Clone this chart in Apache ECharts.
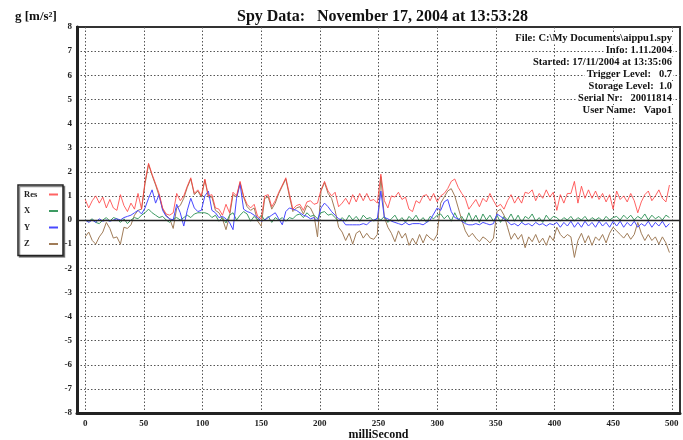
<!DOCTYPE html>
<html><head><meta charset="utf-8">
<script src="https://cdn.jsdelivr.net/npm/echarts@6/dist/echarts.min.js"></script>
<style>html,body{margin:0;padding:0;background:#fff}#c{width:683px;height:440px}</style>
</head><body><div id="c"></div>
<script>
const ms = [0,3,6,9,12,15,18,21,24,27,30,33,36,39,42,45,48,
51,54,57,60,63,66,69,72,75,78,81,84,87,90,93,96,99,
102,105,108,111,114,117,120,123,126,129,132,135,138,141,144,147,150,
153,156,159,162,165,168,171,174,177,180,183,186,189,192,195,198,
201,204,207,210,213,216,219,222,225,228,231,234,237,240,243,246,249,
252,255,258,261,264,267,270,273,276,279,282,285,288,291,294,297,300,
303,306,309,312,315,318,321,324,327,330,333,336,339,342,345,348,
351,354,357,360,363,366,369,372,375,378,381,384,387,390,393,396,399,
402,405,408,411,414,417,420,423,426,429,432,435,438,441,444,447,450,
453,456,459,462,465,468,471,474,477,480,483,486,489,492,495,498];

const resVals = [0.85,0.5,0.8,1.0,0.7,0.95,0.5,0.85,0.5,0.4,1.05,0.6,0.35,0.7,0.45,1.1,0.45,
1.6,2.35,1.9,1.5,1.1,0.5,0.25,0.2,0.3,1.1,0.8,1.0,1.4,1.75,1.1,1.25,1.0,
1.7,1.0,1.05,0.5,0.45,0.2,0.65,0.3,1.15,1.0,1.6,1.0,0.65,0.5,0.65,0.15,0.05,
1.0,1.05,0.55,0.8,1.15,1.45,1.75,1.1,0.45,0.6,0.65,0.4,0.75,0.8,0.65,0.7,
1.25,1.6,1.2,1.0,1.15,0.55,0.7,0.9,0.65,1.05,0.75,1.1,0.8,1.1,0.8,0.85,0.7,
1.9,0.8,0.5,1.0,0.95,1.15,0.85,0.95,0.45,0.35,0.8,0.7,1.0,1.05,0.8,1.1,0.75,
1.0,1.1,1.3,1.6,1.7,1.35,1.1,0.9,0.45,0.65,0.85,0.55,0.9,0.75,1.1,0.8,
0.55,0.65,0.45,0.8,1.05,0.7,0.95,0.7,1.15,1.1,1.25,0.8,1.1,0.9,1.25,0.95,1.15,
0.4,1.05,0.7,1.1,1.1,1.6,0.7,1.4,0.9,1.25,0.9,1.2,0.85,1.1,0.75,1.05,0.45,
1.2,0.85,1.0,0.75,1.1,0.8,0.3,0.75,1.05,1.2,0.8,1.0,1.25,0.9,0.75,1.45];

const xVals = [0.0,-0.05,0.05,-0.1,-0.15,0.0,0.1,-0.05,0.1,0.05,-0.1,0.05,-0.15,0.0,0.1,0.05,0.2,
0.3,0.45,0.3,0.2,0.1,0.15,0.0,-0.1,0.05,0.1,0.0,0.1,0.2,0.1,0.25,0.3,0.3,
0.3,0.25,0.1,0.2,-0.05,0.1,-0.12,0.2,0.3,0.0,0.2,0.35,0.25,-0.05,0.15,0.0,0.2,
0.0,0.15,-0.1,0.1,0.0,0.1,-0.05,0.1,0.05,0.2,0.25,0.1,0.3,0.15,0.2,0.05,
0.3,0.35,0.2,0.25,0.1,-0.05,0.1,-0.05,0.2,0.0,0.15,-0.05,0.2,0.05,0.1,-0.05,0.1,
0.0,0.15,-0.1,0.05,0.2,-0.05,0.1,-0.1,0.15,0.0,0.2,-0.05,0.1,-0.1,0.15,0.05,0.2,
0.25,0.05,0.2,-0.05,0.3,0.0,0.15,-0.1,0.3,-0.05,0.2,-0.1,0.25,0.0,0.2,-0.05,
0.2,-0.1,0.15,0.0,0.25,-0.05,0.2,-0.1,0.15,0.05,0.25,-0.05,0.1,-0.1,0.2,0.0,0.15,
0.1,-0.05,0.1,0.0,0.15,-0.05,0.1,0.0,0.15,-0.05,0.1,0.0,0.1,-0.05,0.15,0.0,0.1,
0.15,0.0,0.2,0.05,0.2,0.0,0.15,0.05,0.25,0.0,0.2,0.05,0.15,0.0,0.2,0.1];

const yVals = [0.0,-0.1,0.0,-0.1,0.05,-0.05,0.0,-0.05,0.0,0.05,0.0,0.1,0.15,0.2,0.3,0.4,0.25,
0.5,0.9,1.25,0.7,1.05,0.4,0.15,0.05,0.0,0.65,0.3,-0.25,0.4,0.9,0.5,0.35,0.4,
1.0,1.2,0.4,0.3,0.1,0.15,0.05,-0.1,-0.4,0.9,1.5,0.45,0.35,0.3,0.2,0.1,-0.05,
0.0,0.1,0.2,0.3,0.05,-0.2,0.35,0.5,0.45,0.4,0.3,0.2,0.15,0.05,0.1,-0.05,
0.5,0.7,0.55,0.35,0.2,0.05,0.0,-0.2,-0.2,-0.2,-0.2,-0.2,-0.15,-0.2,-0.05,0.0,0.05,
1.2,0.1,0.05,-0.05,-0.1,-0.15,-0.2,-0.1,-0.2,-0.15,-0.15,-0.15,-0.2,-0.1,0.0,0.25,0.5,
0.4,0.75,0.85,0.35,0.1,0.05,-0.05,-0.15,-0.2,-0.2,-0.15,-0.2,-0.1,-0.15,-0.2,-0.15,
0.25,0.15,0.05,-0.05,-0.2,-0.15,-0.25,-0.1,-0.2,-0.15,-0.25,-0.1,-0.2,-0.15,-0.25,-0.15,-0.2,
-0.1,-0.3,-0.1,-0.25,-0.05,-0.3,-0.1,-0.3,-0.05,-0.25,-0.1,-0.3,-0.05,-0.25,-0.1,-0.3,-0.05,
-0.25,-0.05,-0.3,-0.1,-0.25,-0.05,-0.3,-0.15,-0.25,-0.05,-0.3,-0.1,-0.25,-0.05,-0.3,-0.15];

const zVals = [-0.7,-0.5,-0.85,-1.0,-0.7,-0.5,-0.1,-0.35,-0.75,-0.7,-1.0,-0.3,-0.35,-0.2,0.2,0.4,0.45,
1.5,2.3,1.85,1.45,1.0,0.45,0.2,0.05,-0.35,0.5,0.6,0.9,1.35,1.7,1.05,1.2,0.95,
1.65,0.95,0.95,0.4,0.3,0.05,-0.4,0.15,1.05,0.95,1.55,0.95,0.55,0.4,0.5,-0.05,-0.25,
0.9,0.95,0.45,0.7,1.1,1.4,1.7,1.0,0.35,0.5,0.55,0.25,0.6,0.5,0.2,-0.7,
1.2,1.55,1.1,0.9,0.4,-0.3,-0.5,-0.85,-0.55,-1.0,-0.55,-0.45,-0.75,-0.55,-0.75,-0.8,-0.6,
1.8,0.1,-0.3,-0.55,-0.9,-0.45,-0.75,-0.55,-1.05,-0.75,-1.0,-0.6,-0.95,-0.6,-0.75,-0.85,-0.6,
0.7,0.95,1.2,1.3,1.0,0.5,0.0,-0.45,-0.7,-0.55,-0.75,-0.9,-0.7,-0.8,-0.95,-0.75,
0.35,0.45,0.2,-0.3,-0.8,-0.55,-0.8,-0.6,-1.15,-0.7,-0.9,-0.6,-0.95,-0.75,-1.05,-0.65,-0.85,
-0.3,-0.6,-0.75,-0.6,-0.7,-1.55,-0.85,-0.55,-0.95,-0.65,-1.05,-0.7,-0.85,-0.6,-0.95,-0.55,-0.3,
-0.45,-0.6,-0.75,-0.55,-0.8,-0.6,-0.1,-0.55,-0.85,-0.6,-0.85,-0.7,-1.0,-0.7,-0.95,-1.35];

const seriesNames = ['Res','X','Y','Z'];
const infoLines = ['File: C:\\My Documents\\aippu1.spy','Info: 1.11.2004','Started: 17/11/2004 at 13:35:06',
  'Trigger Level:   0.7','Storage Level:  1.0','Serial Nr:   20011814','User Name:   Vapo1'];
const titleText = 'Spy Data:   November 17, 2004 at 13:53:28';
const yUnit = 'g [m/s\u00B2]';
const xName = 'milliSecond';

const SERIF = '"Liberation Serif","DejaVu Serif","Times New Roman",serif';
const pair = v => ms.map((t,i)=>[t, v[i]]);

const chart = echarts.init(document.getElementById('c'), null, {renderer:'canvas'});
const lineS = (name, vals, color, z) => ({
  name, type:'line', data: pair(vals), showSymbol:false, symbol:'none', z,
  lineStyle:{color, width:1}, itemStyle:{color}, animation:false
});
const sZ = lineS('Z', zVals, '#a07c58', 2);
const sX = lineS('X', xVals, '#3d9a62', 3);
const sY = lineS('Y', yVals, '#4848ff', 4);
const sR = lineS('Res', resVals, 'rgba(255,60,60,0.8)', 5);
sZ.markLine = {silent:true, symbol:'none', label:{show:false}, animation:false,
  lineStyle:{color:'#222', width:1.3, type:'solid'}, data:[{yAxis:0}]};

const infoGraphics = infoLines.map((t, i) => ({
  type:'text', right:10, top:33 + i*12, z:100,
  style:{text:t, fill:'#111', font:'bold 10.5px ' + SERIF, backgroundColor:'#fff', padding:[0,1,0,2]}
}));

chart.setOption({
  backgroundColor:'#fff',
  animation:false,
  title:[
    {text:titleText, left:232, top:4, textStyle:{fontFamily:SERIF, fontSize:16, fontWeight:'bold', color:'#111'}},
    {text:yUnit, left:10, top:5, textStyle:{fontFamily:SERIF, fontSize:13, fontWeight:'bold', color:'#111'}}
  ],
  grid:{left:77, right:3, top:27, bottom:27, show:true, borderColor:'#333', borderWidth:2,
    backgroundColor:'#fff', containLabel:false, outerBoundsMode:'none'},
  legend:{
    data:seriesNames, orient:'vertical', left:18, top:185, align:'right',
    icon:'rect', itemWidth:9, itemHeight:2, itemGap:7.5,
    padding:[5,5,7,6], borderColor:'#222', borderWidth:1.5,
    shadowColor:'rgba(0,0,0,0.45)', shadowOffsetX:1.5, shadowOffsetY:1.5, shadowBlur:0,
    backgroundColor:'#fff',
    formatter: name => '{a|' + name + '}',
    textStyle:{fontFamily:SERIF, fontSize:8.5, fontWeight:'bold', color:'#222',
      rich:{a:{width:20, align:'left', fontFamily:SERIF, fontSize:8.5, fontWeight:'bold', color:'#222'}}},
    selectedMode:false
  },
  xAxis:{
    type:'value', min:-7, max:507, splitNumber:10,
    name:xName, nameLocation:'middle', nameGap:16, nameMoveOverlap:false,
    nameTextStyle:{fontFamily:SERIF, fontSize:12, fontWeight:'bold', color:'#111'},
    axisLine:{show:true, onZero:false, lineStyle:{color:'#222', width:3}},
    axisTick:{show:false},
    axisLabel:{fontFamily:SERIF, fontSize:9, fontWeight:'bold', color:'#222', margin:6,
      showMinLabel:true, showMaxLabel:true,
      formatter: v => (Math.abs(v % 50) < 1e-6 ? String(v) : '')},
    splitLine:{show:true, showMinLine:false, showMaxLine:false, lineStyle:{color:'#555', width:1, type:[1.5,2]}}
  },
  yAxis:{
    type:'value', min:-8, max:8, interval:1,
    axisLine:{show:true, onZero:false, lineStyle:{color:'#222', width:3}},
    axisTick:{show:false},
    axisLabel:{fontFamily:SERIF, fontSize:9, fontWeight:'bold', color:'#222', margin:5},
    splitLine:{show:true, showMinLine:false, showMaxLine:false, lineStyle:{color:'#555', width:1, type:[1.5,2]}}
  },
  graphic: infoGraphics,
  series:[sZ, sX, sY, sR]
});
</script></body></html>
